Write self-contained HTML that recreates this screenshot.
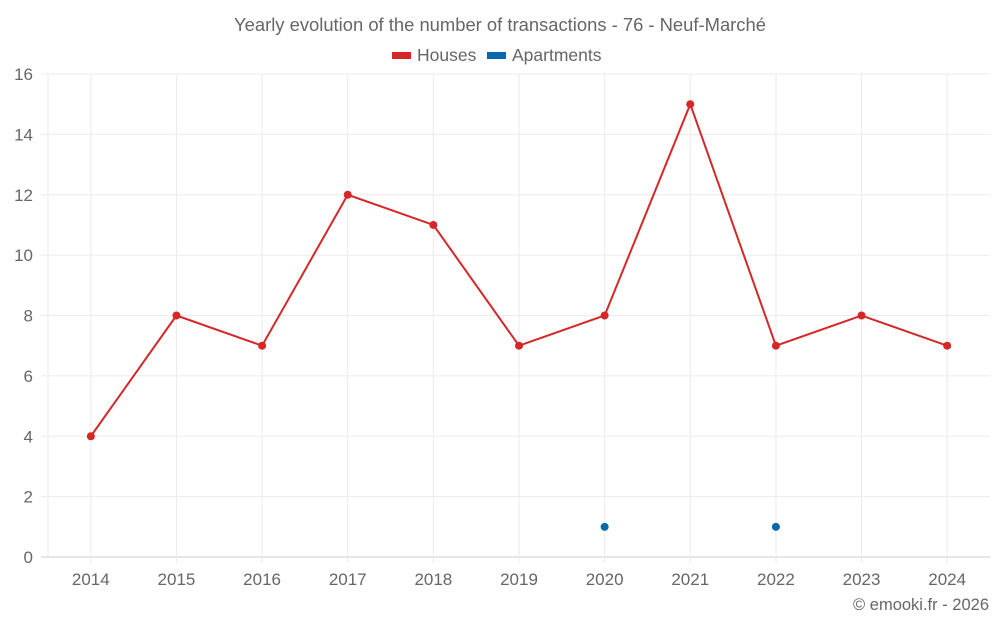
<!DOCTYPE html>
<html><head><meta charset="utf-8"><style>
body{margin:0;background:#fff;font-family:"Liberation Sans",sans-serif;}
svg text{font-family:"Liberation Sans",sans-serif;fill:#666;}
</style></head><body>
<svg id="c" width="1000" height="625">
<text x="500" y="31" text-anchor="middle" font-size="18.4">Yearly evolution of the number of transactions - 76 - Neuf-Marché</text>
<g><rect x="392" y="52" width="19" height="7" fill="#d62728"/><text x="417" y="61" font-size="17.5">Houses</text></g>
<g><rect x="487" y="52" width="19" height="7" fill="#0868ac"/><text x="512" y="61" font-size="17.5">Apartments</text></g>
<text x="989" y="610" text-anchor="end" font-size="16.5">© emooki.fr - 2026</text>
</svg>
<script>
const categories=["2014","2015","2016","2017","2018","2019","2020","2021","2022","2023","2024"];
const houses=[4,8,7,12,11,7,8,15,7,8,7];
const apartments=[null,null,null,null,null,null,1,null,1,null,null];
const yTicks=[0,2,4,6,8,10,12,14,16];
const svg=document.getElementById('c');
const NS='http://www.w3.org/2000/svg';
const L=48,R=990,T=74,B=557,yMax=16;
const bw=(R-L)/categories.length;
const x=i=>L+bw*(i+0.5);
const y=v=>B-(v/yMax)*(B-T);
function mk(t,a){const e=document.createElementNS(NS,t);for(const k in a)e.setAttribute(k,a[k]);svg.appendChild(e);return e;}
yTicks.forEach(v=>{
 const l=mk('line',{x1:41,x2:R,y1:y(v),y2:y(v),stroke:v===0?'#ccc':'#ebebeb','stroke-width':1});
 
 
 const t=mk('text',{x:33,y:y(v)+6,'text-anchor':'end','font-size':17});
 t.textContent=v;
 
 
});
const lv=mk('line',{x1:L,x2:L,y1:T,y2:B,stroke:'#ebebeb'});


categories.forEach((c,i)=>{
 const g=mk('line',{x1:x(i),x2:x(i),y1:T,y2:B+6,stroke:'#ebebeb'});
 
 
 const t=mk('text',{x:x(i),y:585,'text-anchor':'middle','font-size':17});
 t.textContent=c;
 
 
});
const p=mk('polyline',{points:houses.map((v,i)=>x(i)+','+y(v)).join(' '),fill:'none',stroke:'#d62728','stroke-width':2});


houses.forEach((v,i)=>{
 const c=mk('circle',{cx:x(i),cy:y(v),r:4,fill:'#d62728'});
 
 
});
apartments.forEach((v,i)=>{
 if(v==null)return;
 const c=mk('circle',{cx:x(i),cy:y(v),r:4,fill:'#0868ac'});
 
 
});
</script>
</body></html>
